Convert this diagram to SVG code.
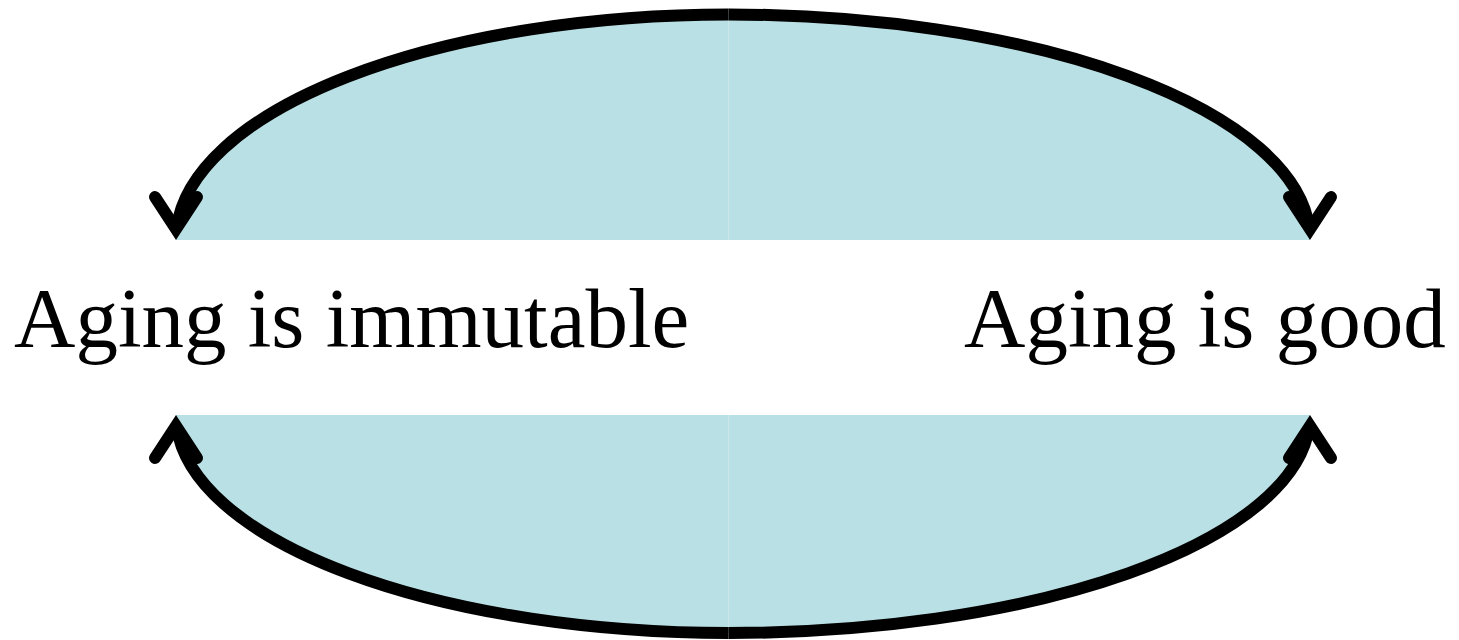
<svg xmlns="http://www.w3.org/2000/svg" xmlns:xlink="http://www.w3.org/1999/xlink" width="1459" height="640" viewBox="0 0 1459 640">
  <style>
    .fill { fill: #B9E0E4; stroke: none; }
    .arc { fill: none; stroke: #000; stroke-width: 12; stroke-linecap: butt; }
    .head { fill: none; stroke: #000; stroke-width: 12; stroke-linecap: round; stroke-linejoin: miter; stroke-miterlimit: 6; }
    .label { font-family: "Liberation Serif", "Times New Roman", serif; font-size: 85px; fill: #000; }
  </style>
  <defs>
    <path id="vhead" class="head" d="M-21,-43 L0,-11 L21,-43"/>
  </defs>
  <rect width="1459" height="640" fill="#fff"/>
  <g id="fills">
    <path class="fill" d="M728.5,240 L728.5,14.5 A552.5,225.5 0 0 0 176,240 Z"/>
    <path class="fill" d="M728.5,240 L728.5,14.5 A581.5,225.5 0 0 1 1310,240 Z"/>
    <path class="fill" d="M728.5,415 L728.5,633 A552.5,218 0 0 1 176,415 Z"/>
    <path class="fill" d="M728.5,415 L728.5,633 A581.5,218 0 0 0 1310,415 Z"/>
  </g>
  <g id="connectors">
    <path class="arc" d="M728.5,14.5 A552.5,225.5 0 0 0 176.8,228"/>
    <use xlink:href="#vhead" transform="translate(176,240)"/>
    <path class="arc" d="M728.5,14.5 A581.5,225.5 0 0 1 1309.2,228"/>
    <use xlink:href="#vhead" transform="translate(1310,240)"/>
    <path class="arc" d="M728.5,633 A552.5,218 0 0 1 176.8,427"/>
    <use xlink:href="#vhead" transform="translate(176,415) rotate(180)"/>
    <path class="arc" d="M728.5,633 A581.5,218 0 0 0 1309.1,427"/>
    <use xlink:href="#vhead" transform="translate(1310,415) rotate(180)"/>
  </g>
  <g id="node-immutable">
    <text class="label" x="14" y="347">Aging is immutable</text>
  </g>
  <g id="node-good">
    <text class="label" x="964" y="347">Aging is good</text>
  </g>
</svg>
